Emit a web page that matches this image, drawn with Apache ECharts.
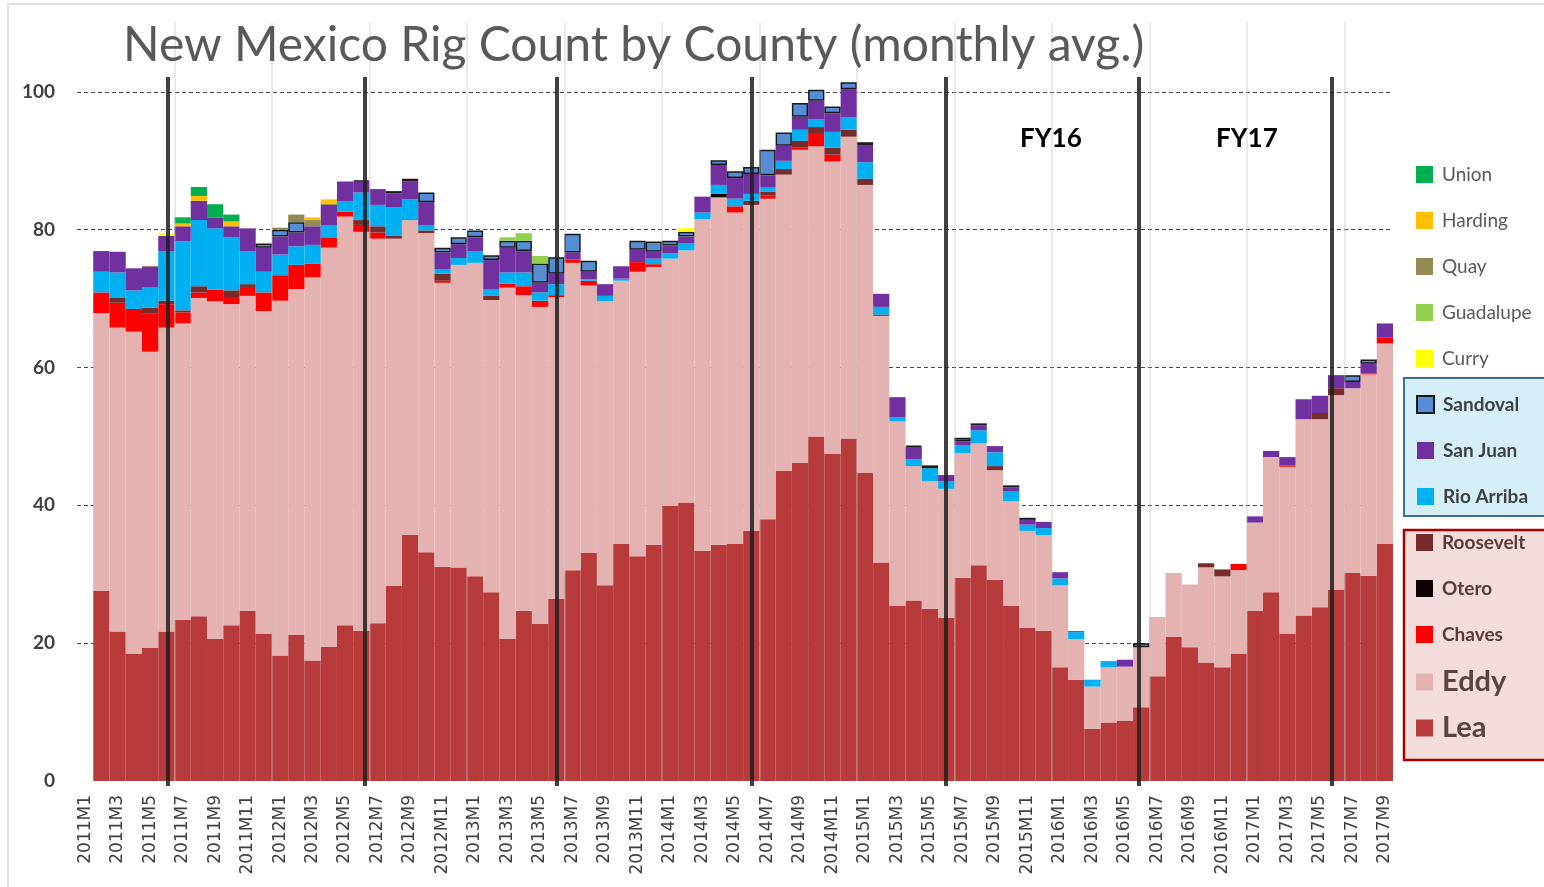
<!DOCTYPE html>
<html>
<head>
<meta charset="utf-8">
<title>New Mexico Rig Count by County</title>
<script src="https://cdn.jsdelivr.net/npm/echarts@6/dist/echarts.min.js"></script>
<style>
  html, body { margin: 0; padding: 0; background: #fff; }
  #chart { width: 1544px; height: 887px; }
</style>
</head>
<body>
<div id="chart"></div>
<script>
// months 2011M1 .. 2017M9
const months = []
for (let y = 2011; y <= 2017; y++) {
  for (let m = 1; m <= 12; m++) {
    if (y === 2017 && m > 9) break
    months.push(y + 'M' + m)
  }
}

// monthly average rig counts (0 = none)
const lea = [0, 27.6, 21.7, 18.5, 19.3, 21.7, 23.4, 23.9, 20.6, 22.6, 24.7,
  21.4, 18.2, 21.2, 17.5, 19.5, 22.6, 21.8, 22.9, 28.3, 35.7,
  33.2, 31.1, 31.0, 29.7, 27.4, 20.6, 24.7, 22.8, 26.4, 30.6,
  33.1, 28.4, 34.4, 32.6, 34.3, 39.9, 40.4, 33.4, 34.3, 34.4,
  36.3, 38.0, 45.0, 46.2, 50.0, 47.5, 49.7, 44.7, 31.7, 25.4,
  26.2, 25.0, 23.7, 29.5, 31.3, 29.2, 25.4, 22.2, 21.8, 16.5,
  14.7, 7.6, 8.5, 8.7, 10.7, 15.2, 20.9, 19.4, 17.2, 16.5,
  18.5, 24.7, 27.4, 21.4, 24.0, 25.2, 27.8, 30.2, 29.8, 34.4]
const eddy = [0, 40.3, 44.1, 46.7, 43.0, 44.1, 43.0, 46.2, 49.0, 46.6, 45.7,
  46.8, 51.5, 50.2, 55.6, 57.9, 59.3, 57.9, 55.8, 50.4, 45.7,
  46.3, 41.2, 43.9, 45.5, 42.4, 51.0, 45.8, 46.0, 43.8, 44.6,
  38.8, 41.2, 38.2, 41.3, 40.3, 35.9, 36.6, 48.1, 50.4, 48.1,
  47.3, 46.5, 43.0, 45.4, 42.1, 42.4, 43.8, 41.8, 35.8, 26.8,
  19.5, 18.5, 18.7, 18.1, 17.7, 15.9, 15.2, 14.1, 13.9, 11.9,
  5.9, 6.1, 8.0, 7.9, 8.7, 8.6, 9.3, 9.1, 13.8, 13.2,
  12.1, 12.8, 19.6, 24.2, 28.5, 27.3, 28.2, 26.8, 29.2, 29.1]
const chaves = [0, 3.0, 3.6, 3.3, 5.6, 3.4, 1.6, 0.8, 1.7, 0.9, 1.3,
  2.7, 3.7, 3.5, 2.0, 1.5, 0.7, 1.0, 0.9, 0, 0,
  0, 0.3, 0, 0, 0, 0.6, 1.3, 0.9, 0.3, 0.5,
  0.7, 0, 0, 1.4, 0.4, 0, 0, 0, 0, 0.9,
  0, 0.5, 0, 0.3, 1.8, 1.0, 0, 0, 0, 0,
  0, 0, 0, 0, 0, 0, 0, 0, 0, 0,
  0, 0, 0, 0, 0, 0, 0, 0, 0, 0,
  0.9, 0, 0, 0.2, 0, 0, 0, 0, 0.15, 0.9]
const otero = [0, 0, 0, 0, 0, 0, 0, 0, 0, 0, 0,
  0, 0, 0, 0, 0, 0, 0, 0, 0, 0,
  0, 0, 0, 0, 0, 0, 0, 0, 0, 0,
  0, 0, 0, 0, 0, 0, 0, 0, 0.5, 0,
  0, 0, 0, 0, 0, 0, 0, 0, 0, 0,
  0, 0, 0, 0, 0, 0, 0, 0, 0, 0,
  0, 0, 0, 0, 0, 0, 0, 0, 0, 0,
  0, 0, 0, 0, 0, 0, 0, 0, 0, 0]
const roosevelt = [0, 0, 0.7, 0, 0.8, 0.5, 0.3, 0.9, 0, 1.1, 0.4,
  0, 0, 0, 0, 0, 0, 0.7, 0.9, 0.4, 0,
  0.4, 1.0, 0, 0, 0.6, 0, 0, 0, 0, 0,
  0, 0, 0, 0, 0, 0, 0, 0, 0, 0,
  0.6, 0.5, 0.8, 1.0, 1.0, 1.0, 1.0, 0.9, 0.2, 0,
  0, 0, 0, 0, 0, 0.6, 0, 0, 0, 0,
  0, 0, 0, 0, 0, 0, 0, 0, 0.6, 1.0,
  0, 0, 0, 0, 0, 0.9, 1.0, 0, 0, 0]
const rioArriba = [0, 3.0, 3.7, 2.7, 2.9, 7.2, 10.0, 9.6, 8.9, 7.7, 4.8,
  3.0, 3.0, 2.7, 2.7, 1.7, 1.5, 4.0, 3.1, 4.2, 3.0,
  0.7, 0.7, 1.0, 1.7, 1.0, 1.6, 2.0, 1.2, 1.6, 0,
  0.2, 0.8, 0.3, 0, 0.8, 0.8, 1.0, 1.0, 1.3, 1.1,
  1.0, 0.6, 1.2, 1.6, 1.1, 2.3, 1.8, 2.4, 1.1, 0.6,
  1.0, 1.9, 1.1, 1.1, 1.9, 2.0, 1.4, 0.9, 1.0, 1.0,
  1.0, 1.0, 0.9, 0, 0, 0, 0, 0, 0, 0,
  0, 0, 0, 0, 0, 0, 0, 0, 0, 0]
const sanJuan = [0, 3.0, 3.0, 3.2, 3.1, 2.2, 2.2, 2.8, 1.6, 1.6, 3.3,
  3.5, 2.6, 2.0, 2.7, 3.0, 2.9, 1.6, 2.3, 2.0, 2.6,
  3.4, 2.4, 2.0, 2.0, 4.2, 3.6, 3.1, 1.4, 1.5, 1.0,
  1.1, 1.7, 1.8, 1.8, 1.0, 1.1, 1.0, 2.3, 2.9, 3.0,
  2.9, 1.8, 2.2, 1.9, 2.7, 2.7, 4.1, 2.5, 1.9, 2.9,
  1.8, 0, 0.9, 0.6, 0.7, 0.9, 0.6, 0.7, 0.9, 0.9,
  0.15, 0, 0, 1.0, 0, 0, 0, 0, 0, 0,
  0, 0.9, 0.9, 1.2, 2.9, 2.5, 1.9, 0.9, 1.4, 2.0]
const sandoval = [0, 0, 0, 0, 0, 0, 0, 0, 0, 0, 0,
  0.6, 1.0, 1.5, 0, 0, 0, 0.15, 0, 0.3, 0.4,
  1.4, 0.7, 1.0, 1.0, 0.7, 1.0, 1.5, 2.8, 2.4, 2.7,
  1.6, 0, 0, 1.3, 1.5, 0.7, 0.7, 0, 0.7, 1.0,
  1.0, 3.7, 1.9, 2.0, 1.6, 1.0, 1.0, 0.4, 0, 0,
  0.15, 0.4, 0, 0.5, 0.3, 0, 0.3, 0.3, 0, 0,
  0, 0, 0, 0, 0.6, 0, 0, 0, 0, 0,
  0, 0, 0, 0, 0, 0, 0, 1.0, 0.6, 0]
const curry = [0, 0, 0, 0, 0.15, 0.4, 0, 0, 0, 0, 0,
  0, 0, 0, 0, 0, 0, 0, 0, 0, 0,
  0, 0, 0, 0, 0, 0, 0, 0, 0, 0,
  0, 0, 0, 0, 0, 0, 0.5, 0, 0, 0,
  0, 0, 0, 0, 0, 0, 0, 0, 0.1, 0,
  0, 0, 0, 0, 0, 0, 0, 0, 0, 0,
  0, 0, 0, 0, 0, 0, 0, 0, 0, 0,
  0, 0, 0, 0, 0, 0, 0, 0, 0, 0]
const guadalupe = [0, 0, 0, 0, 0, 0, 0, 0, 0, 0, 0,
  0, 0, 0, 0, 0, 0, 0, 0, 0, 0,
  0, 0, 0, 0, 0, 0.5, 1.1, 1.1, 0, 0,
  0, 0, 0, 0, 0, 0, 0, 0, 0, 0,
  0, 0, 0, 0, 0, 0, 0, 0, 0, 0,
  0, 0, 0, 0, 0, 0, 0, 0, 0, 0,
  0, 0, 0, 0, 0, 0, 0, 0, 0, 0,
  0, 0, 0, 0, 0, 0, 0, 0, 0, 0]
const quay = [0, 0, 0, 0, 0, 0, 0, 0, 0, 0, 0,
  0, 0.3, 1.1, 0.9, 0.2, 0, 0, 0, 0, 0,
  0, 0, 0, 0, 0, 0, 0, 0, 0, 0,
  0, 0, 0, 0, 0, 0, 0, 0, 0, 0,
  0, 0, 0, 0, 0, 0, 0, 0, 0, 0,
  0, 0, 0, 0, 0, 0, 0, 0, 0, 0,
  0, 0, 0, 0, 0, 0, 0, 0, 0, 0,
  0, 0, 0, 0, 0, 0, 0, 0, 0, 0]
const harding = [0, 0, 0, 0, 0, 0, 0.4, 0.7, 0, 0.7, 0,
  0, 0, 0, 0.4, 0.6, 0, 0, 0, 0, 0,
  0, 0, 0, 0, 0, 0, 0, 0, 0, 0,
  0, 0, 0, 0, 0, 0, 0, 0, 0, 0,
  0, 0, 0, 0, 0, 0, 0, 0, 0, 0,
  0, 0, 0, 0, 0, 0, 0, 0, 0, 0,
  0, 0, 0, 0, 0, 0, 0, 0, 0, 0,
  0, 0, 0, 0, 0, 0, 0, 0, 0, 0]
const union = [0, 0, 0, 0, 0, 0, 0.9, 1.3, 1.9, 1.0, 0,
  0, 0, 0, 0, 0, 0, 0, 0, 0, 0,
  0, 0, 0, 0, 0, 0, 0, 0, 0, 0,
  0, 0, 0, 0, 0, 0, 0, 0, 0, 0,
  0, 0, 0, 0, 0, 0, 0, 0, 0, 0,
  0, 0, 0, 0, 0, 0, 0, 0, 0, 0,
  0, 0, 0, 0, 0, 0, 0, 0, 0, 0,
  0, 0, 0, 0, 0, 0, 0, 0, 0, 0]

// hand drawn fiscal year separators (in month units from the left edge)
const fyLines = [5.6, 17.72, 29.54, 41.54, 53.48, 65.37, 77.21]
const halfYearLines = [6, 12, 18, 24, 30, 36, 42, 48, 54, 60, 66, 72, 78]

const chart = echarts.init(document.getElementById('chart'))

function bar(name, values, color, extra) {
  return {
    name: name,
    type: 'bar',
    stack: 'rigs',
    xAxisIndex: 0,
    yAxisIndex: 0,
    barCategoryGap: '0%',
    clip: false,
    animation: false,
    emphasis: { disabled: true },
    itemStyle: Object.assign({ color: color }, extra || {}),
    data: values.map(v => (v ? v : '-'))
  }
}

const legendBase = {
  orient: 'vertical',
  left: 1416,
  padding: 0,
  icon: 'rect',
  itemWidth: 17,
  itemHeight: 17,
  selectedMode: false
}

chart.setOption({
  backgroundColor: '#fff',
  title: {
    text: 'New Mexico Rig Count by County (monthly avg.)',
    left: 118,
    top: 17,
    textStyle: { fontFamily: 'Lato', fontSize: 48, fontWeight: 'normal', color: '#595959' }
  },
  legend: [
    Object.assign({}, legendBase, {
      top: 165, itemGap: 27,
      data: ['Union', 'Harding', 'Quay', 'Guadalupe', 'Curry'],
      textStyle: { fontFamily: 'Lato', fontSize: 19, color: '#595959', padding: [0, 0, 0, 4] }
    }),
    Object.assign({}, legendBase, {
      top: 395, itemGap: 27,
      data: ['Sandoval', 'San Juan', 'Rio Arriba'],
      textStyle: { fontFamily: 'Lato', fontSize: 19, fontWeight: 'bold', color: '#404040', padding: [0, 0, 0, 4] }
    }),
    Object.assign({}, legendBase, {
      top: 533, itemGap: 27,
      data: ['Roosevelt', 'Otero', 'Chaves'],
      textStyle: { fontFamily: 'Lato', fontSize: 19, fontWeight: 'bold', color: '#5a3b3b', padding: [0, 0, 0, 4] }
    }),
    Object.assign({}, legendBase, {
      top: 667, itemGap: 16,
      data: ['Eddy', 'Lea'],
      textStyle: { fontFamily: 'Lato', fontSize: 29, fontWeight: 'bold', color: '#5a4343', lineHeight: 30, padding: [0, 0, 0, 4] }
    })
  ],
  graphic: [
    { type: 'rect', z: -10, silent: true, shape: { x: 8, y: 4, width: 1560, height: 900 },
      style: { fill: 'none', stroke: '#d9d9d9', lineWidth: 1.5 } },
    { type: 'rect', z: -5, silent: true, shape: { x: 1404, y: 378, width: 160, height: 138 },
      style: { fill: '#d5eff9', stroke: '#3d6d99', lineWidth: 2 } },
    { type: 'rect', z: -5, silent: true, shape: { x: 1404, y: 530, width: 160, height: 230 },
      style: { fill: '#f2dcdc', stroke: '#a80000', lineWidth: 2.5 } },
    { type: 'text', silent: true, left: 1020, top: 126,
      style: { text: 'FY16', fontFamily: 'Lato', fontSize: 26, fontWeight: 'bold', fill: '#000' } },
    { type: 'text', silent: true, left: 1216, top: 126,
      style: { text: 'FY17', fontFamily: 'Lato', fontSize: 26, fontWeight: 'bold', fill: '#000' } }
  ],
  grid: [
    { left: 77, right: 151, top: 23, bottom: 106 },
    { left: 77, right: 151, top: 77, bottom: 101 }
  ],
  xAxis: [
    {
      type: 'category',
      gridIndex: 0,
      data: months,
      axisLine: { show: false },
      axisTick: { show: false },
      splitLine: { show: false },
      axisLabel: {
        interval: 1,
        rotate: 90,
        margin: 14,
        fontFamily: 'DejaVu Sans',
        fontSize: 17,
        color: '#404040'
      }
    },
    { type: 'value', gridIndex: 0, min: 0, max: 81, show: false },
    { type: 'value', gridIndex: 1, min: 0, max: 81, show: false }
  ],
  yAxis: [
    {
      type: 'value',
      gridIndex: 0,
      min: 0,
      max: 110,
      interval: 20,
      axisLine: { show: false },
      axisTick: { show: false },
      axisLabel: {
        margin: 22,
        fontFamily: 'Lato',
        fontSize: 19,
        fontWeight: 'bold',
        color: '#404040',
        formatter: v => (v > 100 ? '' : v)
      },
      splitLine: {
        show: true,
        showMinLine: false,
        showMaxLine: false,
        lineStyle: { color: '#4a4a4a', width: 1, type: [4, 3] }
      }
    },
    { type: 'value', gridIndex: 1, min: 0, max: 1, show: false }
  ],
  series: [
    bar('Lea', lea, '#b73b3b'),
    bar('Eddy', eddy, '#e3b2b1'),
    bar('Chaves', chaves, '#ff0000'),
    bar('Otero', otero, '#0d0000'),
    bar('Roosevelt', roosevelt, '#772b2b'),
    bar('Rio Arriba', rioArriba, '#00b0f0'),
    bar('San Juan', sanJuan, '#7030a0'),
    bar('Sandoval', sandoval, '#558ed5', { borderColor: '#1a1a1a', borderWidth: 1.5 }),
    bar('Curry', curry, '#ffff00'),
    bar('Guadalupe', guadalupe, '#92d050'),
    bar('Quay', quay, '#948a54'),
    bar('Harding', harding, '#ffc000'),
    bar('Union', union, '#00b050'),
    {
      type: 'line',
      xAxisIndex: 1,
      yAxisIndex: 0,
      data: [],
      silent: true,
      z: 5,
      markLine: {
        silent: true,
        animation: false,
        symbol: 'none',
        label: { show: false },
        lineStyle: { color: 'rgba(190,190,190,0.45)', width: 1.5, type: 'solid' },
        data: halfYearLines.map(x => ({ xAxis: x }))
      }
    },
    {
      type: 'line',
      xAxisIndex: 2,
      yAxisIndex: 1,
      data: [],
      silent: true,
      z: 10,
      markLine: {
        silent: true,
        animation: false,
        symbol: 'none',
        label: { show: false },
        lineStyle: { color: 'rgba(30,30,30,0.85)', width: 4, type: 'solid' },
        data: fyLines.map(x => ({ xAxis: x }))
      }
    }
  ]
})
</script>
</body>
</html>
